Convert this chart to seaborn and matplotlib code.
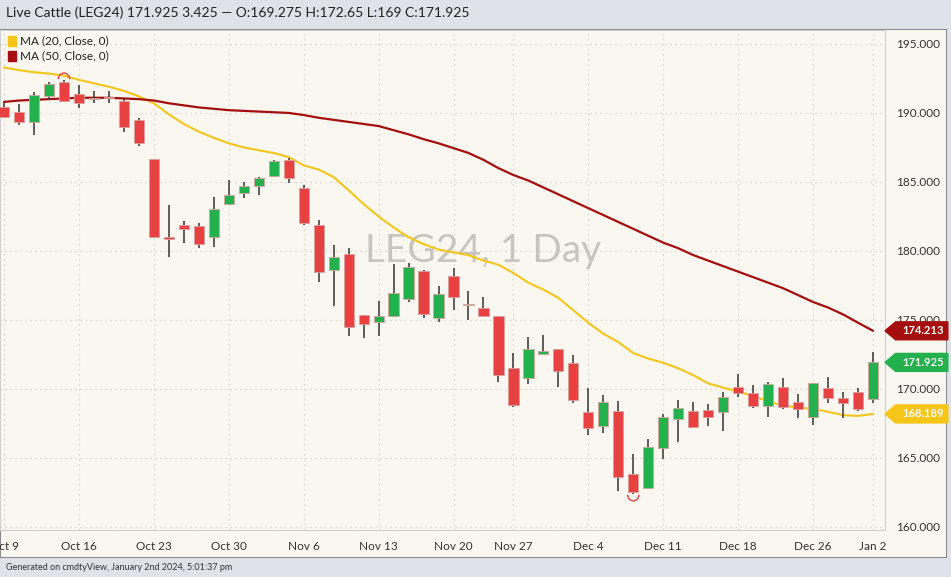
import numpy as np
import pandas as pd
import matplotlib.pyplot as plt
import seaborn as sns
from matplotlib.patches import Polygon, Arc, Rectangle

sns.set_style("white")
plt.rcParams['font.family'] = ['Lato', 'DejaVu Sans']

# ---- data ----
dates = ["Oct 9", "Oct 10", "Oct 11", "Oct 12", "Oct 13",
         "Oct 16", "Oct 17", "Oct 18", "Oct 19", "Oct 20",
         "Oct 23", "Oct 24", "Oct 25", "Oct 26", "Oct 27",
         "Oct 30", "Oct 31", "Nov 1", "Nov 2", "Nov 3",
         "Nov 6", "Nov 7", "Nov 8", "Nov 9", "Nov 10",
         "Nov 13", "Nov 14", "Nov 15", "Nov 16", "Nov 17",
         "Nov 20", "Nov 21", "Nov 22", "Nov 24",
         "Nov 27", "Nov 28", "Nov 29", "Nov 30", "Dec 1",
         "Dec 4", "Dec 5", "Dec 6", "Dec 7", "Dec 8",
         "Dec 11", "Dec 12", "Dec 13", "Dec 14", "Dec 15",
         "Dec 18", "Dec 19", "Dec 20", "Dec 21", "Dec 22",
         "Dec 26", "Dec 27", "Dec 28", "Dec 29", "Jan 2"]
opens = [190.46, 190.05, 189.37, 191.25, 192.27, 191.36, 190.98, 191.14, 190.87, 189.49,
         186.67, 180.96, 181.88, 181.81, 180.99, 183.41, 184.22, 184.73, 185.46, 186.59,
         184.54, 181.88, 178.62, 179.78, 175.36, 174.88, 175.29, 176.52, 178.55, 175.17,
         178.21, 176.10, 175.89, 175.29, 171.54, 170.81, 172.51, 172.87, 171.90,
         168.36, 167.32, 168.41, 163.84, 162.85, 165.75, 167.80, 168.41, 168.46, 168.31,
         170.17, 169.69, 168.79, 170.17, 169.08, 167.95, 170.05, 169.37, 169.80, 169.275]
closes = [189.71, 189.37, 191.30, 192.08, 190.89, 190.70, 191.02, 191.10, 189.01, 187.80,
          181.04, 180.90, 181.57, 180.49, 183.02, 184.06, 184.71, 185.27, 186.52, 185.27,
          182.05, 178.50, 179.54, 174.51, 174.71, 175.31, 176.93, 178.82, 175.41, 176.86,
          176.69, 176.14, 175.31, 171.01, 168.84, 172.88, 172.75, 171.31, 169.20,
          167.15, 169.04, 163.60, 162.56, 165.77, 167.95, 168.64, 167.27, 167.95, 169.40,
          169.69, 168.79, 170.36, 168.72, 168.55, 170.46, 169.33, 168.96, 168.55, 171.925]
highs = [190.70, 190.63, 191.50, 192.22, 192.39, 192.03, 191.60, 191.60, 191.00, 189.66,
         186.67, 183.33, 182.17, 182.05, 183.93, 185.14, 184.98, 185.34, 186.59, 186.72,
         184.78, 182.25, 180.43, 180.20, 175.36, 176.38, 179.06, 179.11, 178.62, 177.46,
         178.79, 177.10, 176.69, 175.29, 172.59, 173.75, 173.91, 172.87, 172.46,
         170.05, 169.57, 169.13, 165.27, 166.38, 168.19, 169.20, 169.08, 168.89, 169.80,
         171.09, 170.29, 170.48, 170.78, 169.62, 170.46, 170.89, 169.80, 170.05, 172.65]
lows = [189.60, 189.13, 188.40, 190.94, 190.82, 190.34, 190.70, 190.70, 188.65, 187.60,
        181.04, 179.59, 180.60, 180.20, 180.27, 183.33, 183.86, 184.06, 185.34, 184.95,
        181.88, 177.78, 176.04, 173.86, 173.72, 173.86, 175.24, 176.28, 175.12, 174.88,
        175.72, 175.00, 175.31, 170.53, 168.72, 170.37, 172.59, 170.17, 168.96,
        166.67, 166.83, 162.61, 162.39, 162.73, 164.91, 166.14, 167.27, 167.32, 166.98,
        169.44, 168.64, 167.99, 168.55, 167.88, 167.39, 168.96, 167.92, 168.41, 169.00]
ma20 = [193.3, 193.1, 192.95, 192.85, 192.7, 192.4, 192.15, 191.9, 191.6, 191.2,
        190.7, 189.9, 189.2, 188.65, 188.2, 187.8, 187.5, 187.3, 187.1, 186.8,
        186.2, 185.9, 185.35, 184.4, 183.4, 182.5, 181.7, 181.0, 180.5, 180.1,
        179.9, 179.7, 179.3, 179.0, 178.4, 177.7, 177.2, 176.6, 175.7,
        174.8, 174.0, 173.4, 172.6, 172.2, 171.9, 171.5, 171.0, 170.4, 170.1,
        169.8, 169.5, 169.1, 168.8, 168.65, 168.55, 168.35, 168.1, 168.05, 168.189]
ma50 = [190.8, 190.9, 190.95, 191.0, 191.05, 191.1, 191.1, 191.1, 191.05, 191.0,
        190.9, 190.7, 190.55, 190.4, 190.3, 190.2, 190.15, 190.1, 190.05, 190.0,
        189.85, 189.65, 189.5, 189.35, 189.2, 189.05, 188.75, 188.45, 188.1, 187.8,
        187.45, 187.1, 186.6, 186.0, 185.5, 185.1, 184.6, 184.1, 183.6,
        183.1, 182.6, 182.1, 181.6, 181.1, 180.6, 180.2, 179.7, 179.3, 178.9,
        178.5, 178.1, 177.7, 177.3, 176.8, 176.3, 175.9, 175.4, 174.8, 174.213]
tick_labels = ["Oct 9", "Oct 16", "Oct 23", "Oct 30", "Nov 6", "Nov 13", "Nov 20",
               "Nov 27", "Dec 4", "Dec 11", "Dec 18", "Dec 26", "Jan 2"]
y_ticks = [160, 165, 170, 175, 180, 185, 190, 195]

df = pd.DataFrame({"date": dates, "open": opens, "high": highs, "low": lows,
                   "close": closes, "ma20": ma20, "ma50": ma50})
df["i"] = np.arange(len(df))
df["up"] = df["close"] >= df["open"]

RED, GREEN, YEL, DRED = "#e84142", "#23b14d", "#f5c518", "#a50e0e"
BG = "#faf7f1"
W, H = 951, 577

fig = plt.figure(figsize=(9.51, 5.77), dpi=100)
fig.patch.set_facecolor("#dfe2e8")
# beige panel behind plot and axis labels
bg = fig.add_axes([0, 1 - 557 / H, 946 / W, 528 / H])
bg.set_facecolor(BG)
bg.set_xticks([])
bg.set_yticks([])
for s in bg.spines.values():
    s.set_color("#8a8d93")

ax = fig.add_axes([0, 1 - 530 / H, 885 / W, 500 / H])
ax.set_facecolor(BG)

# grid
xt = [df.index[df["date"] == d][0] for d in tick_labels]
for x in xt:
    ax.axvline(x, color="#cfcfcf", lw=0.9, ls=(0, (1, 3)), zorder=0)
for y in y_ticks:
    ax.axhline(y, color="#cfcfcf", lw=0.9, ls=(0, (1, 3)), zorder=0)

# watermark
ax.text(32, 180.0, "LEG24, 1 Day", fontsize=28, color="#c8c5c0", ha="center", va="center", zorder=0)

# MAs
sns.lineplot(data=df, x="i", y="ma20", color=YEL, lw=1.5, ax=ax, zorder=2)
sns.lineplot(data=df, x="i", y="ma50", color=DRED, lw=1.6, ax=ax, zorder=2)

# candles
cols = np.where(df["up"], GREEN, RED)
ax.vlines(df["i"], df["low"], df["high"], color="#444444", lw=1.2, zorder=3)
bottoms = np.minimum(df["open"], df["close"])
heights = np.maximum(np.abs(df["close"] - df["open"]), 0.08)
ax.bar(df["i"], heights, bottom=bottoms, width=0.68, color=cols,
       edgecolor="#d9a0a0", linewidth=0.6, zorder=4)

# high / low markers
hi = df["high"].idxmax()
lo = df["low"].idxmin()
ax.add_patch(Arc((hi, df["high"][hi] + 0.05), 0.75, 0.9, theta1=0, theta2=180, color=RED, lw=1, zorder=5))
ax.add_patch(Arc((lo, df["low"][lo] - 0.05), 0.75, 0.9, theta1=180, theta2=360, color=RED, lw=1, zorder=5))

ax.set_xlim(-0.27, 58.8)
ax.set_ylim(159.78, 196.01)
ax.set_xticks(xt)
ax.set_xticklabels(tick_labels, fontsize=8.5, color="#333333")
ax.yaxis.tick_right()
ax.set_yticks(y_ticks)
ax.set_yticklabels([f"{v:.3f}" for v in y_ticks], fontsize=8.5, color="#333333")
ax.tick_params(axis="both", length=0, pad=8)
ax.set_xlabel("")
ax.set_ylabel("")
for s in ax.spines.values():
    s.set_color("#d0d0d0")
    s.set_linewidth(0.8)

# price tags on right axis
trans = ax.get_yaxis_transform()
for val, c in [(df["ma50"].iloc[-1], DRED), (df["close"].iloc[-1], GREEN), (df["ma20"].iloc[-1], YEL)]:
    poly = Polygon([(1.0, val), (1.012, val + 0.65), (1.071, val + 0.65),
                    (1.071, val - 0.65), (1.012, val - 0.65)], closed=True,
                   transform=trans, color=c, clip_on=False, zorder=6)
    ax.add_patch(poly)
    ax.text(1.043, val, f"{val:.3f}", transform=trans, ha="center", va="center",
            fontsize=8, fontweight="bold", color="white", zorder=7, clip_on=False)

# legend and header
for k, (lab, c) in enumerate([("MA (20, Close, 0)", YEL), ("MA (50, Close, 0)", DRED)]):
    y = 0.979 - k * 0.03
    ax.add_patch(Rectangle((0.009, y - 0.01), 0.009, 0.019, transform=ax.transAxes, color=c))
    ax.text(0.023, y, lab, transform=ax.transAxes, fontsize=8.5, va="center", color="#222222")

fig.text(0.006, 1 - 13 / H, "Live Cattle (LEG24) 171.925 3.425 \u2014 O:169.275 H:172.65 L:169 C:171.925",
         fontsize=10, va="center", color="#222222")
fig.text(0.006, 1 - 567 / H, "Generated on cmdtyView, January 2nd 2024, 5:01:37 pm",
         fontsize=6.5, va="center", color="#333333")

fig.savefig("out.png", dpi=100, facecolor=fig.get_facecolor())
